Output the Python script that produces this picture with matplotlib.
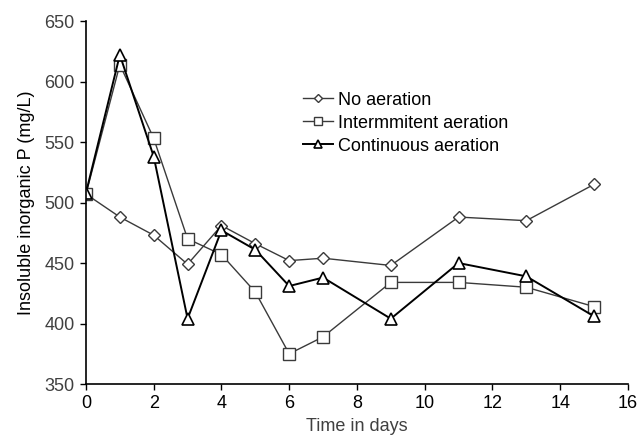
import matplotlib
matplotlib.use("Agg")
import matplotlib.pyplot as plt

plt.rcParams['font.family'] = ['Liberation Sans', 'DejaVu Sans']

days = [0, 1, 2, 3, 4, 5, 6, 7, 9, 11, 13, 15]
no_aeration = [507, 488, 473, 449, 481, 466, 452, 454, 448, 488, 485, 515]
intermittent = [507, 614, 553, 470, 457, 426, 375, 389, 434, 434, 430, 414]
continuous = [508, 622, 538, 404, 477, 461, 431, 438, 404, 450, 439, 406]

labels = ["No aeration", "Intermmitent aeration", "Continuous aeration"]
xticks = [0, 2, 4, 6, 8, 10, 12, 14, 16]
yticks = [350, 400, 450, 500, 550, 600, 650]

fig = plt.figure(figsize=(6.44, 4.44), dpi=100)
ax = fig.add_axes([0.1335, 0.135, 0.8415, 0.8177])

ax.plot(days, no_aeration, color='#3a3a3a', lw=1.0, marker='D', ms=6,
        mfc='white', mec='#3a3a3a', mew=1.0, label=labels[0])
ax.plot(days, intermittent, color='#3a3a3a', lw=1.0, marker='s', ms=8,
        mfc='white', mec='#3a3a3a', mew=1.0, label=labels[1])
ax.plot(days, continuous, color='black', lw=1.4, marker='^', ms=8.5,
        mfc='white', mec='black', mew=1.2, label=labels[2])

ax.set_xlim(0, 16)
ax.set_ylim(350, 650)
ax.set_xticks(xticks)
ax.set_yticks(yticks)
for s in ['top', 'right']:
    ax.spines[s].set_visible(False)
for s in ['left', 'bottom']:
    ax.spines[s].set_linewidth(1.2)
ax.tick_params(direction='out', length=4, width=1, labelsize=13, colors='black', pad=4)
ax.tick_params(axis='y', labelcolor='#404040')
ax.tick_params(axis='x', labelcolor='black')

ax.set_xlabel("Time in days", fontsize=13, color='#404040', labelpad=4)
ax.set_ylabel("Insoluble inorganic P (mg/L)", fontsize=13, color='black', labelpad=7)

leg = ax.legend(loc='upper left', bbox_to_anchor=(0.400, 0.805), frameon=False,
                fontsize=13, handlelength=1.65, handletextpad=0.28,
                labelspacing=0.33, markerscale=0.65, borderpad=0, borderaxespad=0)

fig.savefig("out.png", dpi=100)
